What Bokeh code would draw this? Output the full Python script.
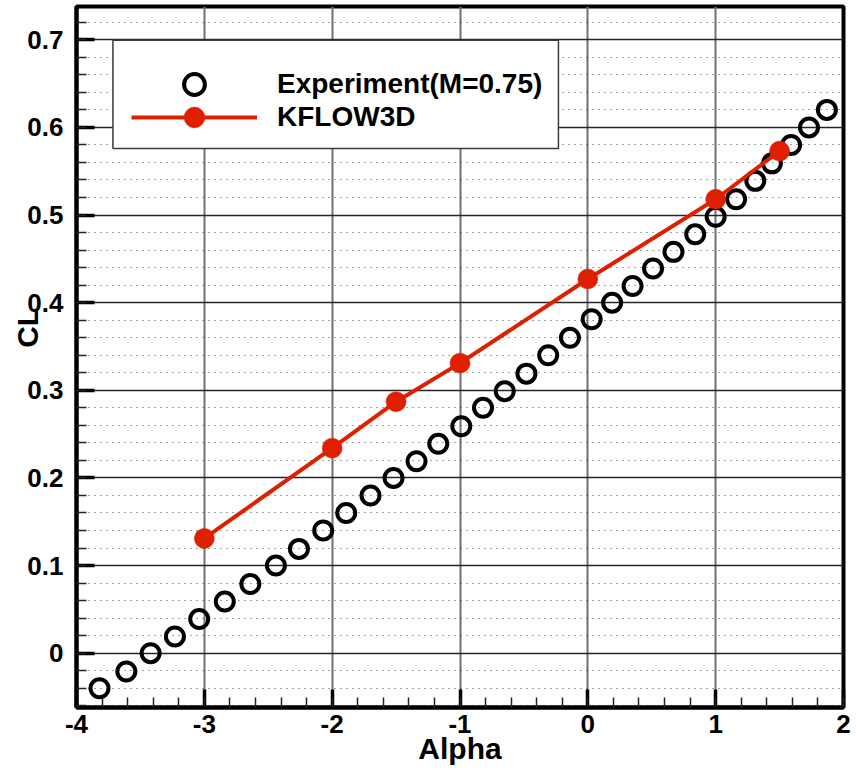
from bokeh.plotting import figure
from bokeh.models import (Range1d, FixedTicker, Legend, LegendItem, BoxAnnotation)
from bokeh.embed import file_html
from bokeh.resources import INLINE

# ---------------- data ----------------
alpha_exp = [-3.82, -3.61, -3.42, -3.23, -3.04, -2.84, -2.64, -2.44, -2.26, -2.07,
             -1.89, -1.70, -1.52, -1.34, -1.17, -0.99, -0.82, -0.65, -0.48, -0.31,
             -0.14, 0.03, 0.19, 0.35, 0.51, 0.67, 0.84, 1.00, 1.16, 1.31,
             1.44, 1.59, 1.73, 1.87]
cl_exp = [-0.040, -0.021, 0.000, 0.019, 0.039, 0.059, 0.079, 0.100, 0.119, 0.140,
          0.160, 0.180, 0.200, 0.219, 0.239, 0.259, 0.280, 0.299, 0.319, 0.340,
          0.360, 0.381, 0.400, 0.419, 0.439, 0.458, 0.478, 0.498, 0.518, 0.539,
          0.559, 0.580, 0.600, 0.620]

alpha_kflow = [-3.0, -2.0, -1.5, -1.0, 0.0, 1.0, 1.5]
cl_kflow = [0.131, 0.234, 0.287, 0.331, 0.427, 0.518, 0.573]

x_ticks = [-4, -3, -2, -1, 0, 1, 2]
x_tick_labels = ["-4", "-3", "-2", "-1", "0", "1", "2"]
x_minor = [round(-4 + 0.2 * i, 2) for i in range(31)]
y_ticks = [0.0, 0.1, 0.2, 0.3, 0.4, 0.5, 0.6, 0.7]
y_tick_labels = ["0", "0.1", "0.2", "0.3", "0.4", "0.5", "0.6", "0.7"]
y_minor = [round(-0.06 + 0.02 * i, 2) for i in range(41)]

series_names = ["Experiment(M=0.75)", "KFLOW3D"]
x_title = "Alpha"
y_title = "CL"

FONT = "Liberation Sans"
RED = "#de2000"

p = figure(width=856, height=774, output_backend="svg", toolbar_location=None,
           x_range=Range1d(-4, 2), y_range=Range1d(-0.062, 0.738),
           min_border_left=76, min_border_right=13, min_border_top=6,
           min_border_bottom=67)
p.background_fill_color = "white"
p.border_fill_color = "white"
p.outline_line_color = "black"
p.outline_line_width = 4

# axes
p.xaxis.ticker = FixedTicker(ticks=x_ticks, minor_ticks=x_minor)
p.yaxis.ticker = FixedTicker(ticks=y_ticks, minor_ticks=y_minor)
p.xaxis.major_label_overrides = {t: l for t, l in zip(x_ticks, x_tick_labels)}
p.yaxis.major_label_overrides = {t: l for t, l in zip(y_ticks, y_tick_labels)}
for ax in (p.xaxis[0], p.yaxis[0]):
    ax.axis_line_color = "black"
    ax.axis_line_width = 4
    ax.major_tick_in = 18
    ax.major_tick_out = 0
    ax.major_tick_line_width = 3.5
    ax.major_tick_line_color = "black"
    ax.minor_tick_in = 10
    ax.minor_tick_out = 0
    ax.minor_tick_line_width = 1.5
    ax.minor_tick_line_color = "#222222"
    ax.major_label_text_font = FONT
    ax.major_label_text_font_style = "bold"
    ax.major_label_text_font_size = "26px"
    ax.major_label_text_color = "black"
    ax.axis_label_text_font = FONT
    ax.axis_label_text_font_style = "bold"
    ax.axis_label_text_font_size = "30px"
    ax.axis_label_text_color = "black"
p.xaxis.major_label_standoff = 7
p.yaxis.major_label_standoff = 13
p.xaxis.axis_label = x_title
p.xaxis.axis_label_standoff = -4
# non-breaking spaces shift the rotated title upward, as in the reference
p.yaxis.axis_label = "\u00a0" * 7 + y_title
p.yaxis.axis_label_standoff = -20

# grids
p.xgrid.grid_line_color = "#707070"
p.xgrid.grid_line_width = 2
p.ygrid.grid_line_color = "#262626"
p.ygrid.grid_line_width = 1.3
p.ygrid.minor_grid_line_color = "#444444"
p.ygrid.minor_grid_line_width = 1
p.ygrid.minor_grid_line_dash = "1 5"

# data
circ = p.scatter(alpha_exp, cl_exp, marker="circle", size=18, fill_color=None,
                 line_color="black", line_width=4)
ln = p.line(alpha_kflow, cl_kflow, line_color=RED, line_width=4)
dots = p.scatter(alpha_kflow, cl_kflow, marker="circle", size=20, fill_color=RED,
                 line_color=RED, line_width=0.5)

# legend box
box = BoxAnnotation(left=-3.715, right=-0.23, bottom=0.576, top=0.6995,
                    fill_color="white", fill_alpha=1.0,
                    line_color="#3a3a3a", line_width=1.5, line_alpha=1.0)
p.add_layout(box)

common = dict(margin=0, padding=0, spacing=0,
              glyph_width=126, glyph_height=52, label_height=52,
              label_standoff=20, border_line_alpha=0, background_fill_alpha=0,
              label_text_font=FONT, label_text_font_style="bold",
              label_text_font_size="28px", label_text_color="black")
leg1 = Legend(items=[LegendItem(label=series_names[0], renderers=[circ])],
              location=(55, 597), **common)
leg2 = Legend(items=[LegendItem(label=series_names[1], renderers=[ln, dots])],
              location=(55, 564), **common)
p.add_layout(leg1)
p.add_layout(leg2)

open("out.html", "w").write(file_html(p, INLINE))
